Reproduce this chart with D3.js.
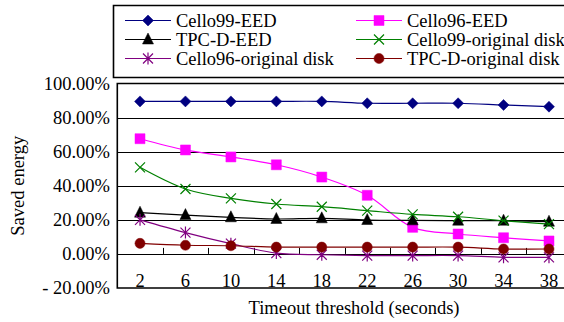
<!DOCTYPE html>
<html>
<head>
<meta charset="utf-8">
<script src="https://cdn.jsdelivr.net/npm/d3@7"></script>
<style>
  body { margin: 0; background: #fff; }
  svg { display: block; }
  svg text { font-family: "Liberation Serif", "DejaVu Serif", "Times New Roman", serif; }
</style>
</head>
<body>
<svg id="chart" width="564" height="322"></svg>
<script>
const W = 564;
const H = 322;

// timeout thresholds (seconds)
const thresholds = ["2", "6", "10", "14", "18", "22", "26", "30", "34", "38"];

// saved energy in percent
const cello99EED = [89.5, 89.5, 89.5, 89.5, 89.5, 88.4, 88.4, 88.4, 87.4, 86.4];
const cello96EED = [67.6, 61.0, 56.9, 52.3, 45.1, 34.4, 15.6, 11.7, 9.5, 7.6];
const tpcdEED = [24.2, 22.8, 21.5, 20.5, 20.9, 19.9, 19.7, 19.5, 19.5, 18.9];
const cello99Orig = [50.8, 38.1, 32.6, 29.3, 27.7, 25.4, 23.2, 21.8, 19.5, 17.5];
const cello96Orig = [20.0, 12.5, 6.0, 0.5, -0.5, -1.0, -1.0, -1.0, -2.0, -2.0];
const tpcdOrig = [6.2, 5.1, 4.8, 4.0, 4.0, 4.0, 4.0, 4.0, 2.9, 2.9];

const yTicks = [-20, 0, 20, 40, 60, 80, 100];
const gridValues = [0, 20, 40, 60, 80];

const series = [
    { name: "Cello99-EED", values: cello99EED, color: "#000080", marker: "diamond" },
    { name: "Cello96-EED", values: cello96EED, color: "#ff00ff", marker: "square" },
    { name: "TPC-D-EED", values: tpcdEED, color: "#000000", marker: "triangle" },
    { name: "Cello99-original disk", values: cello99Orig, color: "#008000", marker: "x" },
    { name: "Cello96-original disk", values: cello96Orig, color: "#800080", marker: "star" },
    { name: "TPC-D-original disk", values: tpcdOrig, color: "#800000", marker: "circle" },
];

const PLOT_LEFT = 117.3;
const PLOT_RIGHT = 571.7;
const PLOT_TOP = 83.5;
const PLOT_BOTTOM = 288;
const FONT = 18.5;
const FAMILY = "'Liberation Serif', 'DejaVu Serif', serif";

const svg = d3.select("#chart");

const x = d3.scaleBand()
    .domain(thresholds)
    .range([PLOT_LEFT, PLOT_RIGHT]);

const y = d3.scaleLinear()
    .domain([-20, 100])
    .range([PLOT_BOTTOM, PLOT_TOP]);

const cx = (d) => x(d) + x.bandwidth() / 2;

// gridlines
svg.append("g")
    .selectAll("line")
    .data(gridValues)
    .join("line")
    .attr("x1", PLOT_LEFT)
    .attr("x2", W)
    .attr("y1", (d) => Math.round(y(d)) + 0.5)
    .attr("y2", (d) => Math.round(y(d)) + 0.5)
    .attr("stroke", "#000")
    .attr("stroke-width", 1);

// category ticks on the zero line, at band boundaries
svg.append("g")
    .selectAll("line")
    .data(thresholds.slice(1))
    .join("line")
    .attr("x1", (d) => Math.round(x(d)) + 0.5)
    .attr("x2", (d) => Math.round(x(d)) + 0.5)
    .attr("y1", y(0))
    .attr("y2", y(0) - 6)
    .attr("stroke", "#000");

// plot frame
svg.append("path")
    .attr("d", `M${W + 2},${PLOT_TOP} H${PLOT_LEFT} V${PLOT_BOTTOM} H${W + 2}`)
    .attr("fill", "none")
    .attr("stroke", "#000")
    .attr("stroke-width", 1.6);

// y tick labels
svg.append("g")
    .selectAll("text")
    .data(yTicks)
    .join("text")
    .attr("x", 110)
    .attr("y", (d) => y(d) + 6)
    .attr("text-anchor", "end")
    .attr("font-family", FAMILY)
    .attr("font-size", FONT)
    .text((d) => (d < 0 ? "- " + Math.abs(d).toFixed(2) : d.toFixed(2)) + "%");

// x tick labels
svg.append("g")
    .selectAll("text")
    .data(thresholds)
    .join("text")
    .attr("x", cx)
    .attr("y", 287)
    .attr("text-anchor", "middle")
    .attr("font-family", FAMILY)
    .attr("font-size", FONT)
    .text((d) => d);

// axis titles
svg.append("text")
    .attr("transform", `translate(24, ${(PLOT_TOP + PLOT_BOTTOM) / 2}) rotate(-90)`)
    .attr("text-anchor", "middle")
    .attr("font-family", FAMILY)
    .attr("font-size", FONT)
    .text("Saved energy");

svg.append("text")
    .attr("x", 354)
    .attr("y", 314)
    .attr("text-anchor", "middle")
    .attr("font-family", FAMILY)
    .attr("font-size", FONT)
    .text("Timeout threshold (seconds)");

function markerPath(type) {
    switch (type) {
        case "diamond": return "M0,-5.5L5.5,0L0,5.5L-5.5,0Z";
        case "square": return "M-5,-5H5V5H-5Z";
        case "triangle": return "M0,-6.5L5.5,4.5H-5.5Z";
        case "circle": return d3.symbol(d3.symbolCircle, 80)();
        case "x": return "M-5,-5L5,5M-5,5L5,-5";
        case "star": return "M-5,-5L5,5M-5,5L5,-5M0,-6V6";
        default: return "";
    }
}

function drawMarker(g, s, px, py) {
    const stroked = s.marker === "x" || s.marker === "star";
    g.append("path")
        .attr("transform", `translate(${px},${py})`)
        .attr("d", markerPath(s.marker))
        .attr("fill", stroked ? "none" : s.color)
        .attr("stroke", s.color)
        .attr("stroke-width", stroked ? 1.2 : 0.5);
}

const line = d3.line()
    .x((d, i) => cx(thresholds[i]))
    .y((d) => y(d))
    .curve(d3.curveCatmullRom);

const plot = svg.append("g");

series.forEach((s) => {
    const g = plot.append("g");
    g.append("path")
        .attr("d", line(s.values))
        .attr("fill", "none")
        .attr("stroke", s.color)
        .attr("stroke-width", 1.2);
    s.values.forEach((v, i) => drawMarker(g, s, cx(thresholds[i]), y(v)));
});

// legend
const legend = svg.append("g");
legend.append("path")
    .attr("d", `M${W + 2},5.5 H113.5 V77.5 H${W + 2}`)
    .attr("fill", "#fff")
    .attr("stroke", "#000")
    .attr("stroke-width", 1.6);

const legendCols = [125, 356];
const legendRows = [20.5, 39.5, 58.5];

series.forEach((s, i) => {
    const lx = legendCols[i % 2];
    const ly = legendRows[Math.floor(i / 2)];
    const g = legend.append("g");
    g.append("line")
        .attr("x1", lx)
        .attr("x2", lx + 46)
        .attr("y1", ly)
        .attr("y2", ly)
        .attr("stroke", s.color)
        .attr("stroke-width", 1.2);
    drawMarker(g, s, lx + 23, ly);
    g.append("text")
        .attr("x", lx + 51)
        .attr("y", ly + 6.5)
        .attr("font-family", FAMILY)
        .attr("font-size", FONT)
        .text(s.name);
});
</script>
</body>
</html>
